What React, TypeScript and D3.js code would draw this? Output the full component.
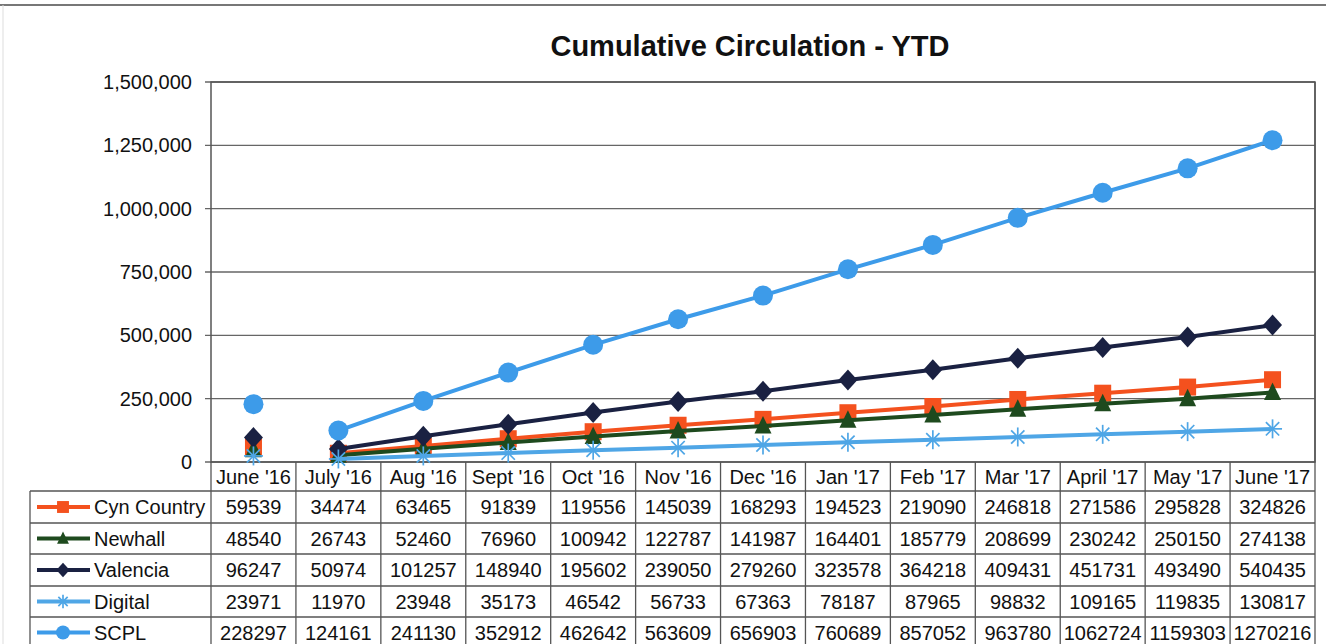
import React from "react";
import * as d3 from "d3";

const categories = ["June '16", "July '16", "Aug '16", "Sept '16", "Oct '16", "Nov '16", "Dec '16", "Jan '17", "Feb '17", "Mar '17", "April '17", "May '17", "June '17"];
const cynCountry = [59539, 34474, 63465, 91839, 119556, 145039, 168293, 194523, 219090, 246818, 271586, 295828, 324826];
const newhall = [48540, 26743, 52460, 76960, 100942, 122787, 141987, 164401, 185779, 208699, 230242, 250150, 274138];
const valencia = [96247, 50974, 101257, 148940, 195602, 239050, 279260, 323578, 364218, 409431, 451731, 493490, 540435];
const digital = [23971, 11970, 23948, 35173, 46542, 56733, 67363, 78187, 87965, 98832, 109165, 119835, 130817];
const scpl = [228297, 124161, 241130, 352912, 462642, 563609, 656903, 760689, 857052, 963780, 1062724, 1159303, 1270216];
const yTicks = [0, 250000, 500000, 750000, 1000000, 1250000, 1500000];

const series = [
  { name: "Cyn Country", values: cynCountry, color: "#F4511E", marker: "square" },
  { name: "Newhall", values: newhall, color: "#1E4A1E", marker: "triangle" },
  { name: "Valencia", values: valencia, color: "#1A2142", marker: "diamond" },
  { name: "Digital", values: digital, color: "#4FA6E6", marker: "star" },
  { name: "SCPL", values: scpl, color: "#3D9BE9", marker: "circle" },
];

const W = 1326, H = 644;
const left = 211, right = 1315, top = 82, bottom = 462;
const tableLeft = 30;
const rowLines = [462, 491, 523, 554, 586, 617, 648];
const font = "'Liberation Sans', Arial, sans-serif";
const fs = 20;

function Marker({ type, x, y, color, size = 1 }: { type: string; x: number; y: number; color: string; size?: number }) {
  const s = size;
  if (type === "square") return <rect x={x - 8.5 * s} y={y - 8.5 * s} width={17 * s} height={17 * s} fill={color} />;
  if (type === "triangle") return <path d={`M${x},${y - 10 * s}L${x + 8.5 * s},${y + 7.5 * s}L${x - 8.5 * s},${y + 7.5 * s}Z`} fill={color} />;
  if (type === "diamond") return <path d={`M${x},${y - 10.5 * s}L${x + 9.5 * s},${y}L${x},${y + 10.5 * s}L${x - 9.5 * s},${y}Z`} fill={color} />;
  if (type === "circle") return <circle cx={x} cy={y} r={10 * s} fill={color} />;
  const r = 9.5 * s;
  return (
    <g stroke={color} strokeWidth={1.7}>
      <line x1={x - r} y1={y} x2={x + r} y2={y} />
      <line x1={x} y1={y - r} x2={x} y2={y + r} />
      <line x1={x - r * 0.7} y1={y - r * 0.7} x2={x + r * 0.7} y2={y + r * 0.7} />
      <line x1={x - r * 0.7} y1={y + r * 0.7} x2={x + r * 0.7} y2={y - r * 0.7} />
    </g>
  );
}

export default function App() {
  const x = d3.scaleBand<string>().domain(categories).range([left, right]);
  const y = d3.scaleLinear().domain([0, 1500000]).range([bottom, top]);
  const cx = (c: string) => (x(c) as number) + x.bandwidth() / 2;
  const fmt = d3.format(",");
  const line = d3.line<number>().x((_, i) => cx(categories[i + 1])).y((v) => y(v));

  return (
    <svg width={W} height={H} style={{ position: "absolute", left: 0, top: 0, background: "#fff" }} fontFamily={font}>
      <rect x={0} y={0} width={W} height={H} fill="#fff" />
      <line x1={0} y1={5} x2={W} y2={5} stroke="#777" strokeWidth={2} />
      <line x1={3} y1={5} x2={3} y2={H} stroke="#ddd" strokeWidth={1} />
      <text x={750} y={56} textAnchor="middle" fontSize={29} fontWeight="bold" fill="#111">Cumulative Circulation - YTD</text>
      {yTicks.map((t) => (
        <g key={t}>
          <line x1={left - 6} x2={right} y1={y(t)} y2={y(t)} stroke="#666" strokeWidth={1.3} />
          <text x={192} y={y(t) + 7} textAnchor="end" fontSize={fs} fill="#111">{fmt(t)}</text>
        </g>
      ))}
      <rect x={left} y={top} width={right - left} height={bottom - top} fill="none" stroke="#555" strokeWidth={1.5} />
      {series.map((s) => (
        <g key={s.name}>
          <path d={line(s.values.slice(1)) || ""} fill="none" stroke={s.color} strokeWidth={4} />
          {s.values.map((v, i) => (
            <Marker key={i} type={s.marker} x={cx(categories[i])} y={y(v)} color={s.color} />
          ))}
        </g>
      ))}
      <g stroke="#555" strokeWidth={1.3}>
        {rowLines.slice(1).map((ry) => (
          <line key={ry} x1={tableLeft} x2={right} y1={ry} y2={ry} />
        ))}
        <line x1={tableLeft} x2={tableLeft} y1={rowLines[1]} y2={H} />
        {categories.map((c) => (
          <line key={c} x1={x(c) as number} x2={x(c) as number} y1={bottom} y2={H} />
        ))}
        <line x1={right} x2={right} y1={top} y2={H} />
      </g>
      {categories.map((c) => (
        <text key={c} x={cx(c)} y={484} textAnchor="middle" fontSize={fs} fill="#111">{c}</text>
      ))}
      {series.map((s, r) => {
        const yc = (rowLines[r + 1] + rowLines[r + 2]) / 2;
        return (
          <g key={s.name}>
            <line x1={37} x2={90} y1={yc} y2={yc} stroke={s.color} strokeWidth={4} />
            <Marker type={s.marker} x={63} y={yc} color={s.color} size={0.7} />
            <text x={94} y={yc + 7} fontSize={fs} fill="#111">{s.name}</text>
            {s.values.map((v, i) => (
              <text key={i} x={cx(categories[i])} y={yc + 7} textAnchor="middle" fontSize={fs} fill="#111">{v}</text>
            ))}
          </g>
        );
      })}
    </svg>
  );
}
